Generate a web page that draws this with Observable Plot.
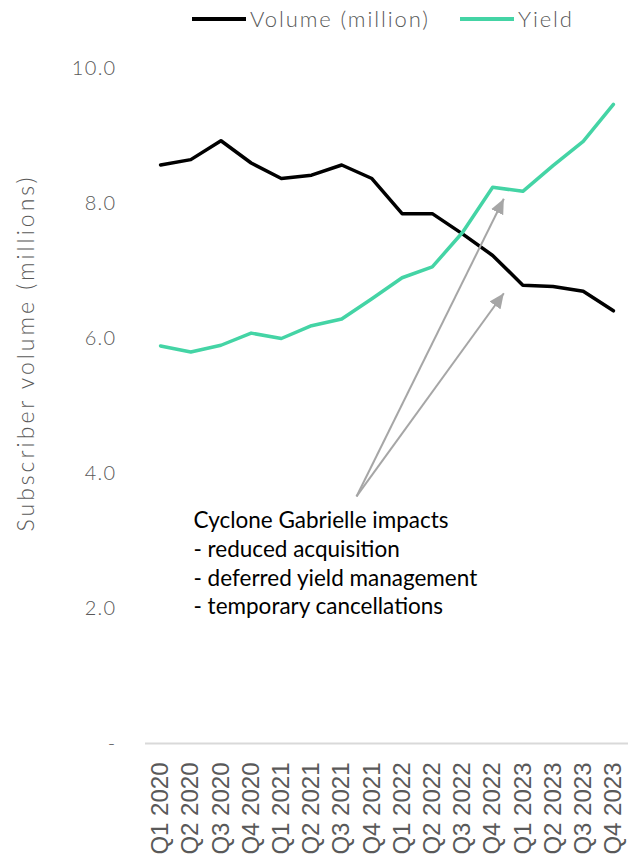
<!DOCTYPE html>
<html>
<head>
<meta charset="utf-8">
<script src="https://cdn.jsdelivr.net/npm/d3@7"></script>
<script src="https://cdn.jsdelivr.net/npm/@observablehq/plot@0.6"></script>
<style>
  html, body { margin: 0; padding: 0; background: #fff; }
  #wrap { position: relative; width: 628px; height: 859px; overflow: hidden; }
  #legend { position: absolute; left: 192px; top: 5px; display: flex; align-items: center;
    font-family: Lato, sans-serif; font-weight: 300; font-size: 22px; letter-spacing: 1.9px; color: #595959; }
  #legend .sw { display: inline-block; width: 54px; height: 4px; margin-right: 4px; }
  #legend .item { display: flex; align-items: center; margin-right: 30px; }
  #ylabel { position: absolute; left: 25px; top: 353px; transform: translate(-50%, -50%) rotate(-90deg);
    white-space: nowrap; font-family: Lato, sans-serif; font-weight: 300; font-size: 23px; letter-spacing: 3px; color: #595959; }
  g[aria-label="y-axis tick label"] text { letter-spacing: 1.3px; }
</style>
</head>
<body>
<div id="wrap">
  <div id="legend"></div>
  <div id="ylabel"></div>
</div>
<script>
const quarters = ["Q1 2020","Q2 2020","Q3 2020","Q4 2020","Q1 2021","Q2 2021","Q3 2021","Q4 2021",
                  "Q1 2022","Q2 2022","Q3 2022","Q4 2022","Q1 2023","Q2 2023","Q3 2023","Q4 2023"];
const volume = [8.57, 8.65, 8.93, 8.60, 8.37, 8.42, 8.57, 8.37, 7.85, 7.85, 7.55, 7.23, 6.79, 6.77, 6.70, 6.41];
const yieldSeries = [5.89, 5.80, 5.90, 6.08, 6.00, 6.19, 6.29, 6.59, 6.90, 7.06, 7.57, 8.24, 8.18, 8.56, 8.92, 9.47];
const yTicks = [0, 2, 4, 6, 8, 10];
const seriesNames = ["Volume (million)", "Yield"];
const seriesColors = ["#000000", "#44d4a5"];
const yAxisTitle = "Subscriber volume (millions)";
const annotationLines = ["Cyclone Gabrielle impacts", "- reduced acquisition", "- deferred yield management", "- temporary cancellations"];
const annotationPos = [1.09, 3.49];          // [quarter index, value]
const arrowStart = [6.49, 3.66];             // [quarter index, value]
const arrowEndsX = [11.37, 11.37];
const arrowEndsY = [8.07, 6.67];

const lineData = quarters.flatMap((q, i) => [
  {i, q, v: volume[i], s: seriesNames[0]},
  {i, q, v: yieldSeries[i], s: seriesNames[1]}
]);
const arrows = arrowEndsX.map((x, k) => ({x1: arrowStart[0], y1: arrowStart[1], x2: x, y2: arrowEndsY[k]}));

function triMarker(color) {
  const ns = "http://www.w3.org/2000/svg";
  const m = document.createElementNS(ns, "marker");
  m.setAttribute("viewBox", "-10 -5 10 10");
  m.setAttribute("markerWidth", 7.5);
  m.setAttribute("markerHeight", 7.5);
  m.setAttribute("orient", "auto");
  m.setAttribute("fill", color);
  m.setAttribute("stroke", "none");
  const p = document.createElementNS(ns, "path");
  p.setAttribute("d", "M-10,-4.5L0,0L-10,4.5Z");
  m.appendChild(p);
  return m;
}

const chart = Plot.plot({
  width: 628,
  height: 859,
  marginLeft: 145,
  marginRight: 0,
  marginTop: 68,
  marginBottom: 116,
  style: {background: "transparent", color: "#595959"},
  x: {type: "linear", domain: [-0.5, 15.5]},
  y: {domain: [0, 10]},
  marks: [
    Plot.axisY({ticks: yTicks, tickFormat: d => d === 0 ? "-" : d.toFixed(1), tickSize: 0, tickPadding: 29,
      label: null, fontSize: 20, fontFamily: "Lato", fontWeight: 300, fill: "#595959"}),
    Plot.axisX({ticks: d3.range(quarters.length), tickFormat: i => quarters[i], tickRotate: -90, tickSize: 0,
      tickPadding: 19, label: null, fontSize: 24, fontFamily: "Liberation Sans", fill: "#595959"}),
    Plot.ruleY([0], {stroke: "#d9d9d9", strokeWidth: 2}),
    Plot.line(lineData, {x: "i", y: "v", z: "s", stroke: d => d.s, strokeWidth: 3.5, strokeLinejoin: "round"}),
    Plot.link(arrows, {x1: "x1", y1: "y1", x2: "x2", y2: "y2", stroke: "#a6a6a6", strokeWidth: 2, markerEnd: triMarker}),
    Plot.text([annotationLines.join("\n")], {x: () => annotationPos[0], y: () => annotationPos[1], text: d => d,
      textAnchor: "start", lineAnchor: "top", fontSize: 22.5, lineHeight: 1.275, fontFamily: "Lato", fill: "#000"})
  ],
  color: {domain: seriesNames, range: seriesColors}
});
document.getElementById("wrap").prepend(chart);
chart.style.position = "absolute";
chart.style.left = "0";
chart.style.top = "0";

const legend = document.getElementById("legend");
seriesNames.forEach((n, k) => {
  const it = document.createElement("div"); it.className = "item";
  const sw = document.createElement("span"); sw.className = "sw"; sw.style.background = seriesColors[k];
  const tx = document.createElement("span"); tx.textContent = n;
  it.append(sw, tx); legend.append(it);
});
document.getElementById("ylabel").textContent = yAxisTitle;
</script>
</body>
</html>
